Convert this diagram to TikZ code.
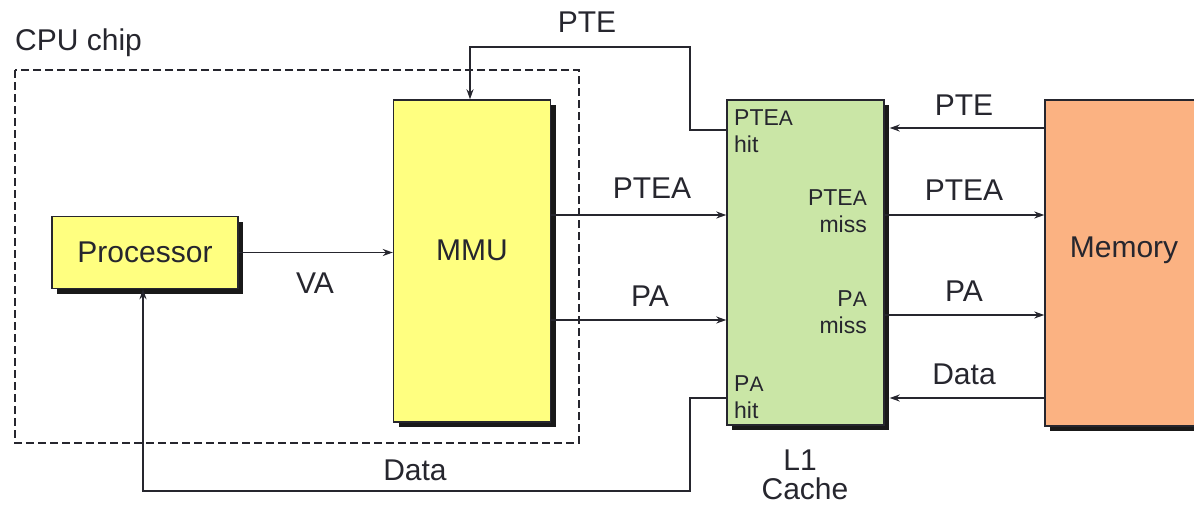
\documentclass[tikz,border=0pt]{standalone}
\usepackage{fontspec}
\setmainfont{Liberation Sans}
\usetikzlibrary{arrows.meta,shadows}

\definecolor{ink}{RGB}{38,38,46}
\definecolor{cpuyellow}{RGB}{255,255,128}
\definecolor{cachegreen}{RGB}{202,230,166}
\definecolor{memorange}{RGB}{251,178,130}

% slightly reduced capital used in address abbreviations
\newcommand{\smA}{{\fontsize{21}{25}\selectfont A}}

\tikzset{
  unit/.style={draw=ink, line width=1.4pt, rectangle, inner sep=0pt,
    drop shadow={shadow xshift=5pt, shadow yshift=-5pt, fill=black!90, opacity=1}},
  lbl/.style={text=ink, font=\fontsize{30}{36}\selectfont, inner sep=0pt},
  small/.style={text=ink, font=\fontsize{23}{27}\selectfont, inner sep=0pt},
  arr/.style={draw=ink, line width=1.4pt, -{Stealth[length=10pt,width=7pt]}},
}

\begin{document}
\begin{tikzpicture}[x=1pt,y=-1pt]
\useasboundingbox (0,0) rectangle (1194,506);

% CPU chip boundary
\draw[ink, line width=1.2pt, dash pattern=on 8pt off 4pt] (15,70) rectangle (579,443);
\node[lbl, anchor=west] (cpulbl) at (15,43) {CPU chip};

% functional units
\node[unit, fill=cpuyellow, minimum width=186pt, minimum height=72pt] (proc) at (145,252.5) {};
\node[lbl] (proctxt) at (proc.center) {Processor};

\node[unit, fill=cpuyellow, minimum width=157pt, minimum height=322pt] (mmu) at (472,261) {};
\node[lbl] (mmutxt) at ([yshift=11pt]mmu.center) {MMU};

\node[unit, fill=cachegreen, minimum width=157pt, minimum height=325pt] (l1) at (805.5,262.5) {};

\node[unit, fill=memorange, minimum width=158pt, minimum height=326pt] (mem) at (1124,263) {};
\node[lbl] (memtxt) at ([yshift=13pt]mem.center) {Memory};

% cache port labels
\node[small, anchor=west, align=left] (pteahit) at (734,131.5) {PTE\smA\\hit};
\node[small, anchor=east, align=right] (pteamiss) at (867,211) {PTE\smA\\miss};
\node[small, anchor=east, align=right] (pamiss) at (867,312) {P\smA\\miss};
\node[small, anchor=west, align=left] (pahit) at (734,397.5) {P\smA\\hit};

\node[lbl] (l1a) at (800,460) {L1};
\node[lbl] (l1b) at (805,489) {Cache};

% processor -> MMU
\draw[arr] (proc.east) -- (proc.east -| mmu.west);
\node[lbl] (va) at (315,283) {VA};

% MMU -> cache
\draw[arr] ([yshift=46pt]mmu.east) coordinate (pteaA) -- (pteaA -| l1.west);
\node[lbl] (ptealbl) at (652,188) {PTEA};
\draw[arr] ([yshift=-59pt]mmu.east) coordinate (paA) -- (paA -| l1.west);
\node[lbl] (palbl) at (650,296) {PA};

% PTE hit back to MMU
\coordinate (pteTurn) at (690,47);
\draw[arr] ([yshift=132.5pt]l1.west) -| (pteTurn) -| ([xshift=-2pt]mmu.north);
\node[lbl] (ptetop) at (587,22) {PTE};

% data hit back to processor
\coordinate (dataTurn) at (690,491);
\draw[arr] ([yshift=-135.5pt]l1.west) -| (dataTurn) -| ([xshift=-2pt]proc.south);
\node[lbl] (databot) at (415,470) {Data};

% cache <-> memory
\draw[arr, shorten >=5pt] ([yshift=135pt]mem.west) coordinate (pteM) -- (pteM -| l1.east);
\node[lbl] (pteR) at (964,105) {PTE};
\draw[arr] ([yshift=47.5pt]l1.east) coordinate (pteaM) -- (pteaM -| mem.west);
\node[lbl] (pteaR) at (964,190) {PTEA};
\draw[arr] ([yshift=-52.5pt]l1.east) coordinate (paM) -- (paM -| mem.west);
\node[lbl] (paR) at (964,291) {PA};
\draw[arr, shorten >=5pt] ([yshift=-135pt]mem.west) coordinate (dataM) -- (dataM -| l1.east);
\node[lbl] (dataR) at (964,374) {Data};
\end{tikzpicture}
\end{document}
